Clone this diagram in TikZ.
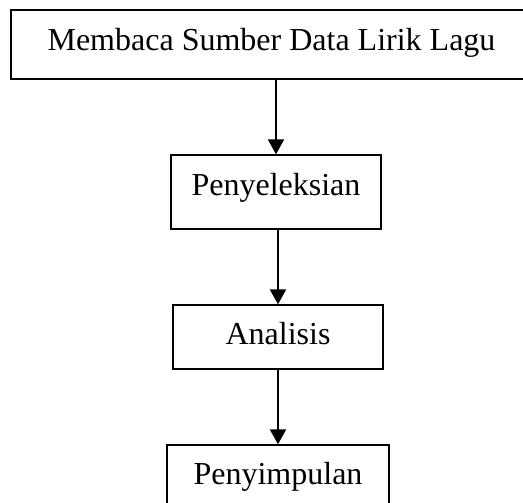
\documentclass[tikz,border=0pt]{standalone}
\usepackage{fontspec}
\setmainfont{Liberation Serif}
\usetikzlibrary{arrows.meta}
\begin{document}
\begin{tikzpicture}[x=1pt,y=-1pt,
  box/.style={draw, line width=1.3pt, inner sep=0pt, font=\fontsize{32}{36}\selectfont},
  arr/.style={line width=2pt, -{Triangle[width=16pt,length=15pt]}}]
\useasboundingbox (0,0) rectangle (523,503);
\clip (0,0) rectangle (523,503);
\fill[white] (0,0) rectangle (523,503);
\node[box, minimum width=521pt, text height=41pt, text depth=28pt] (b1) at (271.5,44.5) {Membaca Sumber Data Lirik Lagu};
\node[box, minimum width=210pt, text height=40pt, text depth=34pt] (b2) at (276,192) {Penyeleksian};
\node[box, minimum width=210pt, text height=39pt, text depth=25pt] (b3) at (278,337) {Analisis};
\node[box, minimum width=222pt, text height=39pt, text depth=36pt] (b4) at (278,482.5) {Penyimpulan};
\draw[arr] (b2.north |- b1.south) -- (b2.north);
\draw[arr] (b3.north |- b2.south) -- (b3.north);
\draw[arr] (b4.north |- b3.south) -- (b4.north);
\end{tikzpicture}
\end{document}
